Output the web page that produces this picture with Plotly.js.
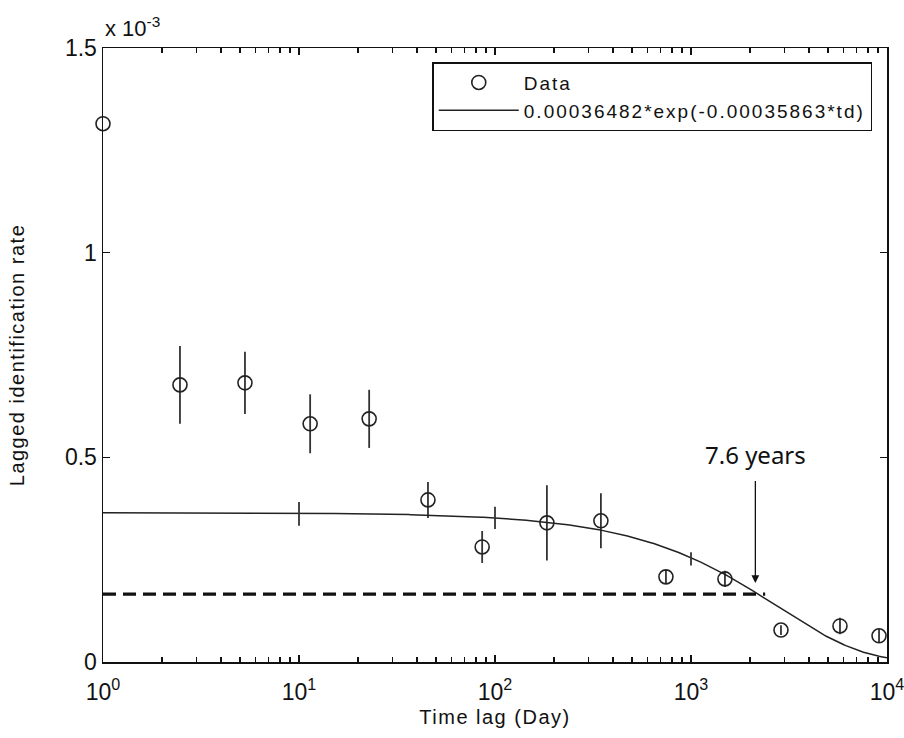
<!DOCTYPE html>
<html>
<head>
<meta charset="utf-8">
<script src="https://cdn.plot.ly/plotly-3.0.1.min.js"></script>
<style>
html,body{margin:0;padding:0;background:#fff;}
#chart{width:904px;height:738px;}
.xtitle,.ytitle{letter-spacing:1.5px;}
.legendtext{letter-spacing:2px;}
</style>
</head>
<body>
<div id="chart"></div>
<script>
// Data
const lagDays = [1, 2.47, 5.3, 11.4, 22.8, 45.5, 86, 184, 347, 745, 1490, 2878, 5756, 9107];
const rate    = [1.315e-3, 0.677e-3, 0.682e-3, 0.582e-3, 0.594e-3, 0.396e-3, 0.281e-3, 0.340e-3, 0.345e-3, 0.208e-3, 0.203e-3, 0.078e-3, 0.088e-3, 0.064e-3];
const rateErr = [0, 0.095e-3, 0.076e-3, 0.072e-3, 0.071e-3, 0.044e-3, 0.039e-3, 0.092e-3, 0.067e-3, 0.017e-3, 0.020e-3, 0.012e-3, 0.020e-3, 0.017e-3];

// Fit model printed in the legend
const fitA = 0.00036482;
const fitB = 0.00035863;
const fitLabel = '0.00036482*exp(-0.00035863*td)';

// Small vertical marks on the fit curve
const markX = [10, 100, 1000];
const markY = [0.362e-3, 0.352e-3, 0.252e-3];
const markErr = [0.029e-3, 0.027e-3, 0.016e-3];

// Threshold line and annotation
const thresholdY = 0.166e-3;
const thresholdX = [1, 2390];
const arrowX = 2130;
const arrowTipY = 0.193e-3;
const arrowLabelY = 0.506e-3;
const arrowLabel = '7.6 years';

// Axis ticks
const xTickVals = [1, 10, 100, 1000, 10000];
const xTickText = ['10<sup>0</sup>', '10<sup>1</sup>', '10<sup>2</sup>', '10<sup>3</sup>', '10<sup>4</sup>'];
const yTickVals = [0, 0.5e-3, 1e-3, 1.5e-3];
const yTickText = ['0', '0.5', '1', '1.5'];

// Fit curve sample points (log-spaced)
const fitX = [];
for (let i = 0; i <= 400; i++) fitX.push(Math.pow(10, 4 * i / 400));
const fitY = fitX.map(t => fitA * Math.exp(-fitB * t));

const ink = '#222';
const FONT = 'Arial, "Liberation Sans", sans-serif';
const traces = [
  {
    x: lagDays, y: rate, type: 'scatter', mode: 'markers', name: 'Data',
    marker: {symbol: 'circle-open', size: 14, color: ink, line: {width: 1.6, color: ink}},
    error_y: {type: 'data', array: rateErr, visible: true, width: 0, thickness: 1.8, color: '#333'},
    cliponaxis: false
  },
  {
    x: fitX, y: fitY, type: 'scatter', mode: 'lines', name: fitLabel,
    line: {color: ink, width: 1.5}
  },
  {
    x: markX, y: markY, type: 'scatter', mode: 'markers', showlegend: false,
    marker: {size: 1, color: ink, opacity: 0},
    error_y: {type: 'data', array: markErr, visible: true, width: 0, thickness: 1.8, color: '#333'}
  },
  {
    x: thresholdX, y: [thresholdY, thresholdY], type: 'scatter', mode: 'lines', showlegend: false,
    line: {color: '#111', width: 3.2, dash: '13px,7px'}
  }
];

const layout = {
  width: 904, height: 738,
  margin: {l: 103, r: 17, t: 48, b: 76},
  paper_bgcolor: '#fff', plot_bgcolor: '#fff',
  font: {family: FONT, color: '#111', size: 19},
  showlegend: true,
  legend: {
    x: 0.42, y: 0.977, xanchor: 'left', yanchor: 'top',
    bordercolor: '#111', borderwidth: 1.5, bgcolor: '#fff',
    font: {size: 19, family: FONT},
    itemwidth: 80, tracegroupgap: 0
  },
  xaxis: {
    type: 'log', range: [0, 4], tickvals: xTickVals, ticktext: xTickText,
    showline: true, linecolor: '#111', linewidth: 1.5, mirror: 'allticks',
    ticks: 'inside', ticklen: 7, tickcolor: '#111', tickwidth: 1.2,
    minor: {ticks: 'inside', ticklen: 5, dtick: 'D1', tickcolor: '#111', tickwidth: 1.2},
    showgrid: false, zeroline: false,
    tickfont: {size: 23}, ticklabelstandoff: 9, ticklabeloverflow: 'allow',
    title: {text: 'Time lag (Day)', font: {size: 20}, standoff: 6}
  },
  yaxis: {
    range: [0, 1.5e-3], tickvals: yTickVals, ticktext: yTickText,
    showline: true, linecolor: '#111', linewidth: 1.5, mirror: 'allticks',
    ticks: 'inside', ticklen: 7, tickcolor: '#111', tickwidth: 1.2,
    showgrid: false, zeroline: false,
    tickfont: {size: 23}, ticklabeloverflow: 'allow',
    title: {text: 'Lagged identification rate', font: {size: 20}, standoff: 35}
  },
  annotations: [
    {xref: 'paper', yref: 'paper', x: 0.0, y: 1.008, xanchor: 'left', yanchor: 'bottom',
     text: 'x 10<sup>-3</sup>', showarrow: false, font: {size: 22}},
    {x: Math.log10(arrowX), y: arrowTipY, ax: Math.log10(arrowX), ay: arrowLabelY, axref: 'x', ayref: 'y',
     xref: 'x', yref: 'y', text: arrowLabel, showarrow: true, arrowhead: 2, arrowsize: 1.2, arrowwidth: 1.3,
     arrowcolor: '#111', standoff: 0, startstandoff: 8,
     font: {size: 24, family: '"Noto Sans", "Open Sans", sans-serif', color: '#111'}}
  ]
};

Plotly.newPlot('chart', traces, layout, {displayModeBar: false, staticPlot: true});
</script>
</body>
</html>
